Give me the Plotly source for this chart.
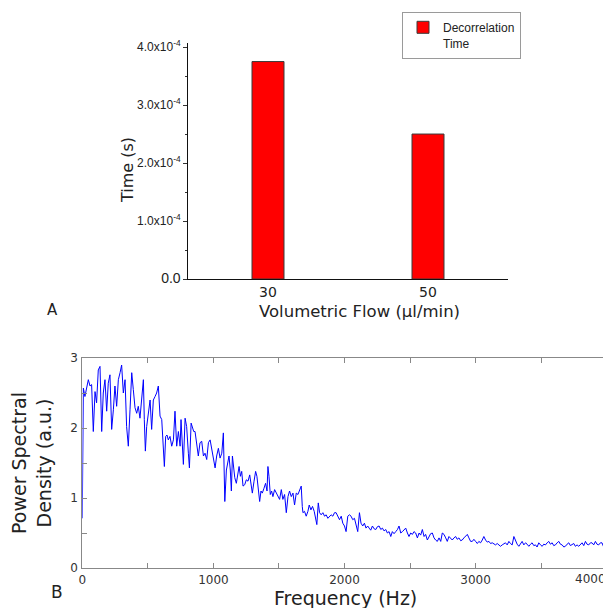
import plotly.graph_objects as go

# ---------------- data: panel A ----------------
flow_categories = ["30", "50"]
decorrelation_time = [3.75e-4, 2.5e-4]
time_tickvals = [0, 1e-4, 2e-4, 3e-4, 4e-4]
time_ticktext = ["<span style='font-size:14px'>0.0</span>", "1.0x10<sup>-4</sup>",
                 "2.0x10<sup>-4</sup>", "3.0x10<sup>-4</sup>", "4.0x10<sup>-4</sup>"]

# ---------------- data: panel B ----------------
freq_low = [0, 8, 20, 33, 46, 59, 71, 84, 97, 109, 122, 135, 148, 160, 173, 186, 198, 211,
            224, 237, 249, 262, 275, 288, 300, 313, 326, 338, 351, 364, 377, 389, 402, 415,
            427, 440, 453, 466, 473, 481, 491, 504, 517, 529, 542, 555, 567, 580, 593, 606,
            618, 626, 636, 646, 656, 669, 682, 695, 707, 720, 733, 746, 753, 763, 771, 784,
            796, 809, 817, 830, 840, 850, 860, 873, 885, 898, 911, 924, 936, 949, 962, 975,
            987, 1000, 1013, 1025, 1038, 1051, 1064, 1076, 1087]
psd_low = [0.71, 2.57, 2.45, 2.6, 2.69, 2.6, 2.62, 1.95, 2.52, 2.36, 2.83, 2.88, 1.95, 2.5,
           2.69, 2.24, 2.64, 2.76, 1.98, 2.26, 2.6, 2.31, 2.69, 2.79, 2.9, 2.5, 2.69, 2.02,
           1.74, 2.26, 2.79, 2.55, 2.29, 2.21, 2.31, 2.14, 2.4, 2.69, 2.12, 1.67, 2.02, 2.26,
           2.4, 1.98, 2.4, 2.45, 2.5, 2.6, 2.17, 2.12, 1.79, 1.45, 1.88, 1.9, 1.83, 1.88,
           1.74, 1.83, 2.24, 1.74, 1.95, 1.74, 2.12, 1.69, 1.48, 2.14, 2.02, 1.64, 1.43, 2.07,
           2.02, 1.95, 1.95, 1.76, 1.6, 1.79, 1.81, 1.6, 1.64, 1.55, 1.79, 1.83, 1.69, 1.55,
           1.43, 1.6, 1.71, 1.57, 1.64, 1.93, 0.95]

freq_mid = [1099, 1109, 1119, 1129, 1137, 1145, 1155, 1163, 1175, 1188, 1196, 1206, 1216,
            1226, 1239, 1251, 1264, 1277, 1289, 1297, 1310, 1322, 1332, 1343, 1353, 1363,
            1373, 1386, 1398, 1409, 1416, 1424, 1434, 1444, 1454, 1467, 1480, 1492, 1505,
            1518, 1530, 1543, 1556, 1569, 1581, 1594, 1607, 1619, 1632, 1645, 1657, 1670,
            1678, 1683, 1695, 1708, 1721, 1731, 1744, 1756, 1769, 1777, 1789, 1800, 1810,
            1822, 1835, 1848, 1860, 1873, 1886, 1898, 1911, 1924, 1936, 1949, 1962, 1975,
            1987, 2000, 2012, 2025, 2038, 2050, 2063, 2076, 2088, 2101, 2114, 2126, 2139,
            2152, 2164, 2177]
psd_mid = [1.4, 1.5, 1.6, 1.4, 1.1, 1.6, 1.4, 1.29, 1.21, 1.33, 1.45, 1.31, 1.38,
           1.17, 1.19, 1.26, 1.24, 1.33, 1.17, 1.07, 1.24, 1.38, 1.31, 1.12, 0.95, 1.10,
           1.07, 1.14, 1.21, 1.1, 1.45, 1.31, 1.05, 1.1, 1.02, 1.12, 1.07, 1.02, 0.98,
           1.12, 0.98, 1.05, 0.79, 1.02, 1.1, 1.02, 1.07, 0.9, 1.07, 1.05, 1.1, 1.17,
           0.88, 0.79, 0.81, 0.74, 0.81, 0.9, 0.83, 0.88, 0.81, 0.74, 0.62, 0.93, 0.79,
           0.76, 0.79, 0.74, 0.76, 0.71, 0.74, 0.76, 0.74, 0.79, 0.79, 0.74, 0.69, 0.74,
           0.64, 0.6, 0.52, 0.74, 0.76, 0.74, 0.69, 0.71, 0.6, 0.52, 0.79, 0.64, 0.6,
           0.64, 0.57, 0.6]

freq_high = [2188, 2200, 2213, 2226, 2239, 2251, 2264, 2277, 2289, 2302, 2315, 2327, 2340,
             2353, 2365, 2378, 2391, 2404, 2416, 2429, 2442, 2455, 2467, 2480, 2492, 2505,
             2518, 2530, 2543, 2556, 2569, 2581, 2594, 2607, 2619, 2632, 2645, 2657, 2670,
             2683, 2695, 2708, 2721, 2734, 2746, 2759, 2772, 2784, 2797, 2810, 2822, 2835,
             2848, 2860, 2873, 2886, 2898, 2911, 2924, 2937, 2949, 2962, 2975, 2987, 3000,
             3013, 3025, 3038, 3051, 3063, 3076, 3089, 3102, 3114, 3127, 3140, 3152, 3165,
             3178, 3190, 3203, 3216, 3228, 3241, 3254, 3266, 3279, 3292, 3305, 3317, 3330,
             3343, 3355, 3368, 3381, 3393, 3406, 3419, 3431, 3444, 3457, 3469, 3482, 3495,
             3508, 3520, 3533, 3546, 3558, 3571, 3584, 3596, 3609, 3622, 3635, 3647, 3660,
             3673, 3685, 3698, 3711, 3723, 3736, 3749, 3761, 3774, 3787, 3800, 3812, 3825,
             3838, 3850, 3863, 3876, 3888, 3901, 3914, 3926, 3939, 3952, 3964, 3977, 3990,
             4003]
psd_high = [0.57, 0.54, 0.6, 0.56, 0.55, 0.59, 0.6, 0.55, 0.57, 0.53, 0.55, 0.5, 0.52,
            0.45, 0.52, 0.49, 0.52, 0.55, 0.6, 0.5, 0.52, 0.55, 0.57, 0.5, 0.45, 0.5,
            0.48, 0.52, 0.5, 0.43, 0.5, 0.47, 0.55, 0.45, 0.48, 0.4, 0.45, 0.49, 0.5,
            0.43, 0.4, 0.38, 0.43, 0.38, 0.5, 0.48, 0.43, 0.38, 0.45, 0.42, 0.4, 0.43,
            0.45, 0.41, 0.43, 0.39, 0.4, 0.43, 0.45, 0.48, 0.43, 0.38, 0.38, 0.41, 0.38,
            0.35, 0.38, 0.36, 0.4, 0.45, 0.4, 0.37, 0.38, 0.35, 0.36, 0.34, 0.33, 0.35,
            0.33, 0.31, 0.33, 0.35, 0.36, 0.33, 0.38, 0.35, 0.33, 0.45, 0.38, 0.34, 0.31,
            0.35, 0.38, 0.33, 0.36, 0.34, 0.31, 0.34, 0.36, 0.32, 0.33, 0.3, 0.36, 0.33,
            0.31, 0.34, 0.33, 0.36, 0.38, 0.34, 0.36, 0.32, 0.33, 0.36, 0.38, 0.34, 0.33,
            0.3, 0.31, 0.34, 0.36, 0.32, 0.33, 0.35, 0.31, 0.33, 0.31, 0.34, 0.36, 0.32,
            0.38, 0.34, 0.33, 0.36, 0.36, 0.33, 0.38, 0.34, 0.33, 0.36, 0.36, 0.3, 0.31,
            0.34]

freq_tickvals = [0, 1000, 2000, 3000, 4000]
freq_ticktext = ["0", "1000", "2000", "3000", ""]
# the last frequency label is drawn right-aligned to its tick (it would overflow otherwise)
freq_last_label = "4000"
freq_last_value = 4000
psd_tickvals = [0, 1, 2, 3]
psd_ticktext = ["0", "1", "2", "3"]

# ---------------- assemble ----------------
n1 = min(len(freq_low), len(psd_low))
n2 = min(len(freq_mid), len(psd_mid))
n3 = min(len(freq_high), len(psd_high))
freq = freq_low[:n1] + freq_mid[:n2] + freq_high[:n3]
psd = psd_low[:n1] + psd_mid[:n2] + psd_high[:n3]

# the page body has an 8px margin: the figure starts at (8, 8) in the window
OFF = 8
W, H = 611 - OFF, 608 - OFF


def fx(p):
    return (p - OFF) / W


def fy(p):
    return 1 - (p - OFF) / H


fig = go.Figure()
fig.add_trace(go.Bar(
    x=flow_categories, y=decorrelation_time, name="Decorrelation<br>Time",
    width=0.2, marker=dict(color="#ff0000", line=dict(color="#3a3a3a", width=1)),
    xaxis="x", yaxis="y"))
fig.add_trace(go.Scatter(
    x=freq, y=psd, mode="lines", line=dict(color="#0000ff", width=1),
    xaxis="x2", yaxis="y2", showlegend=False))

tick_font_a = dict(family="Liberation Sans, Arial", size=12, color="#222")
tick_font_b = dict(family="DejaVu Sans", size=12, color="#333")
axis_common = dict(showgrid=False, zeroline=False, automargin=False)

fig.update_layout(
    width=W, height=H, autosize=False,
    margin=dict(l=0, r=0, t=0, b=0),
    paper_bgcolor="white", plot_bgcolor="white",
    template="none",
    showlegend=True,
    legend=dict(x=fx(402), y=fy(12), xanchor="left", yanchor="top",
                bordercolor="#9a9a9a", borderwidth=1, bgcolor="white",
                font=dict(family="Liberation Sans, Arial", size=12, color="#222"),
                valign="top", itemwidth=30),
    # panel A axes
    xaxis=dict(domain=[fx(188), fx(508)], anchor="y", type="category",
               range=[-0.5, 1.5], showline=True, linecolor="#111", linewidth=1,
               ticks="", tickfont=dict(family="DejaVu Sans", size=14, color="#222"),
               ticklabelstandoff=0, **axis_common),
    yaxis=dict(domain=[fy(279), fy(43)], anchor="x", range=[0, 4.07e-4],
               tickmode="array", tickvals=time_tickvals, ticktext=time_ticktext,
               ticks="outside", ticklen=4, tickcolor="#333", tickfont=tick_font_a,
               minor=dict(tick0=0, dtick=0.5e-4, ticks="outside", ticklen=2, tickcolor="#333"),
               showline=True, linecolor="#111", linewidth=1, **axis_common),
    xaxis3=dict(overlaying="x", side="top", anchor="y", type="linear",
                range=[-0.5, 1.5], tickmode="array", tickvals=[0, 1],
                ticks="inside", ticklen=5, tickcolor="#444", showticklabels=False,
                showline=True, linecolor="#444", linewidth=1, **axis_common),
    yaxis3=dict(overlaying="y", side="right", anchor="x", range=[0, 4.07e-4],
                tickmode="array", tickvals=time_tickvals, ticks="inside", ticklen=5,
                tickcolor="#444", showticklabels=False,
                minor=dict(tick0=0, dtick=0.5e-4, ticks="inside", ticklen=3, tickcolor="#444"),
                showline=True, linecolor="#444", linewidth=1, **axis_common),
    # panel B axes
    xaxis2=dict(domain=[fx(82.3), fx(608)], anchor="y2", range=[0, 4010],
                tickmode="array", tickvals=freq_tickvals, ticktext=freq_ticktext,
                ticks="inside", ticklen=5, tickcolor="#888",
                minor=dict(tick0=0, dtick=500, ticks="inside", ticklen=5, tickcolor="#888"),
                mirror="allticks", showline=True, linecolor="#888", linewidth=1,
                tickfont=tick_font_b, ticklabelstandoff=1, **axis_common),
    yaxis2=dict(domain=[fy(568), fy(358)], anchor="x2", range=[0, 3],
                tickmode="array", tickvals=psd_tickvals, ticktext=psd_ticktext,
                ticks="inside", ticklen=5, tickcolor="#888",
                minor=dict(tick0=0, dtick=0.5, ticks="inside", ticklen=5, tickcolor="#888"),
                mirror="allticks", showline=True, linecolor="#888", linewidth=1,
                tickfont=tick_font_b, ticklabelstandoff=1, **axis_common),
)

ann_font = dict(family="DejaVu Sans", color="#222")
annotations = [
    dict(text="A", x=fx(52), y=fy(310), font=dict(size=15, **ann_font)),
    dict(text="Time (s)", x=fx(127), y=fy(170), textangle=-90, font=dict(size=16, **ann_font)),
    dict(text="Volumetric Flow (\u00b5l/min)", x=fx(359), y=fy(311), font=dict(size=16.5, **ann_font)),
    dict(text="Power Spectral<br>Density (a.u.)", x=fx(31), y=fy(463), textangle=-90,
         font=dict(size=19, **ann_font)),
    dict(text="Frequency (Hz)", x=fx(345), y=fy(598), font=dict(size=19, **ann_font)),
    dict(text="B", x=fx(57), y=fy(592), font=dict(size=17, **ann_font)),
]
for a in annotations:
    a.update(xref="paper", yref="paper", showarrow=False, xanchor="center", yanchor="middle")
annotations.append(dict(text=freq_last_label, x=freq_last_value, xref="x2", y=fy(579),
                        yref="paper", showarrow=False, xanchor="right", yanchor="middle",
                        xshift=1, font=tick_font_b))
fig.update_layout(annotations=annotations)

fig.write_html("out.html")
